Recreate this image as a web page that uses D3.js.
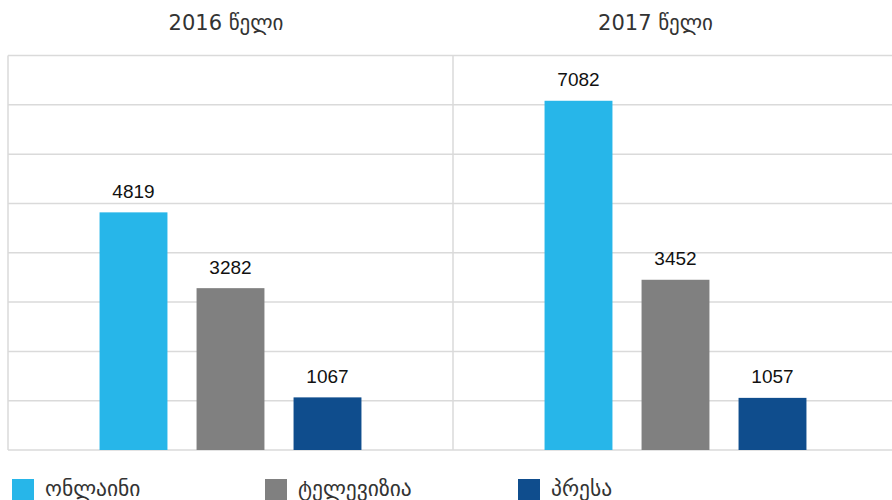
<!DOCTYPE html>
<html>
<head>
<meta charset="utf-8">
<script src="https://cdn.jsdelivr.net/npm/d3@7"></script>
<style>
  html, body { margin: 0; padding: 0; background: #fff; overflow: hidden; }
  svg { display: block; }
</style>
</head>
<body>
<svg id="chart" width="892" height="500"></svg>
<script>
// ---- data ----
const years = ["2016 წელი", "2017 წელი"];
const series = ["ონლაინი", "ტელევიზია", "პრესა"];
const values2016 = [4819, 3282, 1067];
const values2017 = [7082, 3452, 1057];
const gridTicks = [0, 1000, 2000, 3000, 4000, 5000, 6000, 7000, 8000];
const colors = ["#27b6e9", "#808080", "#0f4d8d"];

const valuesByYear = [values2016, values2017];

const svg = d3.select("#chart");
const W = 892, H = 500;
const plotLeft = 8, plotTop = 55.5, plotBottom = 450, panelW = 445;

const x0 = d3.scaleBand().domain(years).range([plotLeft, plotLeft + panelW * years.length]).padding(0);
const x1 = d3.scaleBand().domain(series).range([77, 368]).paddingInner(0.3).paddingOuter(0.15);
const y = d3.scaleLinear().domain([0, 8000]).range([plotBottom, plotTop]);
const color = d3.scaleOrdinal().domain(series).range(colors);

// gridlines
const grid = svg.append("g").attr("class", "grid");
grid.selectAll("line.h").data(gridTicks).join("line")
  .attr("x1", plotLeft).attr("x2", W)
  .attr("y1", d => y(d)).attr("y2", d => y(d))
  .attr("stroke", "#dadada").attr("stroke-width", 1.5);
grid.selectAll("line.v").data(years).join("line")
  .attr("x1", d => x0(d)).attr("x2", d => x0(d))
  .attr("y1", y(8000)).attr("y2", y(0))
  .attr("stroke", "#dadada").attr("stroke-width", 1.5);

// panels
const panels = svg.selectAll("g.panel").data(years).join("g")
  .attr("class", "panel")
  .attr("transform", d => `translate(${x0(d)},0)`);

panels.each(function(yr, i) {
  const g = d3.select(this);
  const vals = valuesByYear[i];
  const data = series.map((s, j) => ({ s, v: vals[j] }));
  g.selectAll("rect").data(data).join("rect")
    .attr("x", d => x1(d.s))
    .attr("width", x1.bandwidth())
    .attr("y", d => y(d.v))
    .attr("height", d => y(0) - y(d.v))
    .attr("fill", d => color(d.s));
  g.selectAll("text.lbl").data(data).join("text")
    .attr("class", "lbl")
    .attr("x", d => x1(d.s) + x1.bandwidth() / 2)
    .attr("y", d => y(d.v) - 14.5)
    .attr("text-anchor", "middle")
    .attr("font-family", "'Liberation Sans', Arial, sans-serif")
    .attr("font-size", 19)
    .attr("fill", "#111")
    .text(d => d.v);
});

// titles
const titleOffsets = [-4.5, -20];
svg.selectAll("text.title").data(years).join("text")
  .attr("class", "title")
  .attr("x", (d, i) => x0(d) + x0.bandwidth() / 2 + titleOffsets[i])
  .attr("y", 30)
  .attr("text-anchor", "middle")
  .attr("font-family", "'DejaVu Sans', sans-serif")
  .attr("font-size", 21)
  .attr("fill", "#333")
  .text(d => d);

// legend
const legendX = [12, 265, 518];
const leg = svg.selectAll("g.legend").data(series).join("g")
  .attr("class", "legend")
  .attr("transform", (d, i) => `translate(${legendX[i]},479)`);
leg.append("rect").attr("width", 22).attr("height", 22).attr("fill", d => color(d));
leg.append("text")
  .attr("x", 33).attr("y", 17)
  .attr("font-family", "'DejaVu Sans', sans-serif")
  .attr("font-size", 21.5)
  .attr("fill", "#333")
  .text(d => d);
</script>
</body>
</html>
